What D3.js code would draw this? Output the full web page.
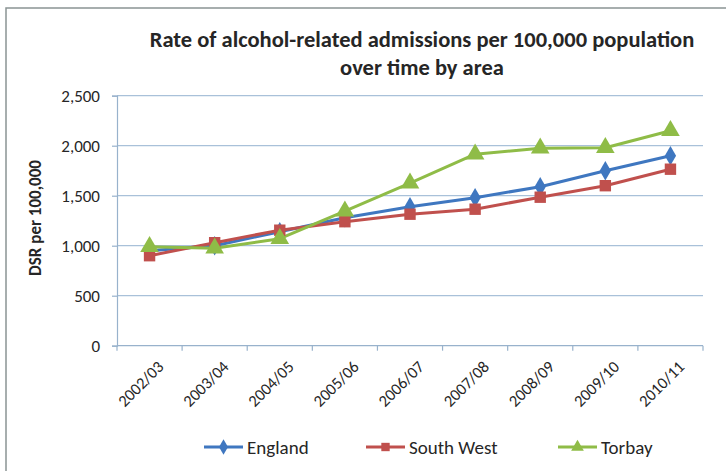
<!DOCTYPE html>
<html>
<head>
<meta charset="utf-8">
<script src="https://cdn.jsdelivr.net/npm/d3@7"></script>
<style>
  html, body { margin: 0; padding: 0; background: #fff; }
  svg { display: block; }
  text { font-family: Carlito, Lato, "Liberation Sans", sans-serif; fill: #262626; }
</style>
</head>
<body>
<svg id="chart" width="726" height="471"></svg>
<script>
// Financial years on the x axis
const years = ["2002/03", "2003/04", "2004/05", "2005/06", "2006/07",
               "2007/08", "2008/09", "2009/10", "2010/11"];

// Directly standardised rate per 100,000 population
const england   = [950, 1000, 1140, 1280, 1390, 1480, 1590, 1750, 1900];
const southWest = [900, 1030, 1155, 1240, 1315, 1365, 1485, 1600, 1765];
const torbay    = [990,  975, 1070, 1345, 1625, 1915, 1975, 1980, 2150];

const yTicks = [0, 500, 1000, 1500, 2000, 2500];

const seriesNames = ["England", "South West", "Torbay"];
const seriesColors = ["#3f77c0", "#c0504d", "#8fbc47"];
const seriesSymbols = [d3.symbolDiamond, d3.symbolSquare, d3.symbolTriangle];

const series = [england, southWest, torbay].map((values, i) => ({
  name: seriesNames[i], values, color: seriesColors[i], symbol: seriesSymbols[i]
}));

const svg = d3.select("#chart");

// Chart frame
svg.append("rect")
  .attr("x", 6).attr("y", 8).attr("width", 740).attr("height", 480)
  .attr("fill", "#fff").attr("stroke", "#8a9494").attr("stroke-width", 1.5);

const plot = { left: 117, right: 703, top: 95.7, bottom: 345.7 };

const x = d3.scaleBand().domain(years).range([plot.left, plot.right]);
const y = d3.scaleLinear().domain([0, 2500]).range([plot.bottom, plot.top]);

// Horizontal gridlines
svg.append("g")
  .selectAll("line")
  .data(yTicks.filter(t => t > 0))
  .join("line")
  .attr("x1", plot.left).attr("x2", plot.right)
  .attr("y1", d => y(d)).attr("y2", d => y(d))
  .attr("stroke", "#a9c1d9").attr("stroke-width", 1.2);

// Y axis
const yAxis = svg.append("g")
  .attr("transform", `translate(${plot.left},0)`)
  .call(d3.axisLeft(y).tickValues(yTicks).tickSize(5).tickPadding(12)
    .tickFormat(d3.format(",")));
yAxis.select(".domain").attr("stroke", "#98b2cc").attr("stroke-width", 1.2);
yAxis.selectAll(".tick line").attr("stroke", "#98b2cc").attr("stroke-width", 1.2);
yAxis.selectAll(".tick text")
  .attr("font-size", 17).attr("fill", "#262626")
  .style("font-family", "Carlito, Lato, 'Liberation Sans', sans-serif");

// X axis with ticks on category boundaries
const xAxisG = svg.append("g")
  .attr("transform", `translate(0,${plot.bottom})`);
xAxisG.append("line")
  .attr("x1", plot.left).attr("x2", plot.right)
  .attr("stroke", "#98b2cc").attr("stroke-width", 1.2);
const boundaries = years.map(d => x(d)).concat([plot.right]);
xAxisG.selectAll("line.tk")
  .data(boundaries)
  .join("line")
  .attr("class", "tk")
  .attr("x1", d => d).attr("x2", d => d)
  .attr("y1", 0).attr("y2", 5)
  .attr("stroke", "#98b2cc").attr("stroke-width", 1.2);
xAxisG.selectAll("text")
  .data(years)
  .join("text")
  .attr("transform", d => `translate(${x(d) + x.bandwidth() / 2 + 11},${18}) rotate(-45)`)
  .attr("text-anchor", "end")
  .attr("dy", "0.35em")
  .attr("font-size", 16.5)
  .text(d => d);

// Series lines and markers
const line = d3.line()
  .x((d, i) => x(years[i]) + x.bandwidth() / 2)
  .y(d => y(d));

series.forEach(s => {
  svg.append("path")
    .datum(s.values)
    .attr("d", line)
    .attr("fill", "none")
    .attr("stroke", s.color)
    .attr("stroke-width", 3)
    .attr("stroke-linejoin", "round");
});

const symbolSize = { "England": 110, "South West": 130, "Torbay": 150 };
series.forEach(s => {
  svg.append("g")
    .selectAll("path")
    .data(s.values)
    .join("path")
    .attr("transform", (d, i) => `translate(${x(years[i]) + x.bandwidth() / 2},${y(d)})`)
    .attr("d", d3.symbol().type(s.symbol).size(symbolSize[s.name]))
    .attr("fill", s.color);
});

// Title
const title = svg.append("text")
  .attr("x", 422).attr("text-anchor", "middle")
  .attr("font-size", 22.5).attr("font-weight", "bold");
title.append("tspan").attr("x", 422).attr("y", 47)
  .text("Rate of alcohol-related admissions per 100,000 population");
title.append("tspan").attr("x", 422).attr("y", 75)
  .text("over time by area");

// Y axis title
svg.append("text")
  .attr("transform", "translate(41,218) rotate(-90)")
  .attr("text-anchor", "middle")
  .attr("font-size", 17).attr("font-weight", "bold")
  .text("DSR per 100,000");

// Legend
const legendX = [204, 366, 558];
const legend = svg.append("g");
series.forEach((s, i) => {
  const g = legend.append("g").attr("transform", `translate(${legendX[i]},447)`);
  g.append("line").attr("x1", 0).attr("x2", 39)
    .attr("stroke", s.color).attr("stroke-width", 3);
  g.append("path").attr("transform", "translate(19.5,0)")
    .attr("d", d3.symbol().type(s.symbol).size(70))
    .attr("fill", s.color);
  g.append("text").attr("x", 43).attr("dy", "0.35em")
    .attr("font-size", 19).text(s.name);
});
</script>
</body>
</html>
